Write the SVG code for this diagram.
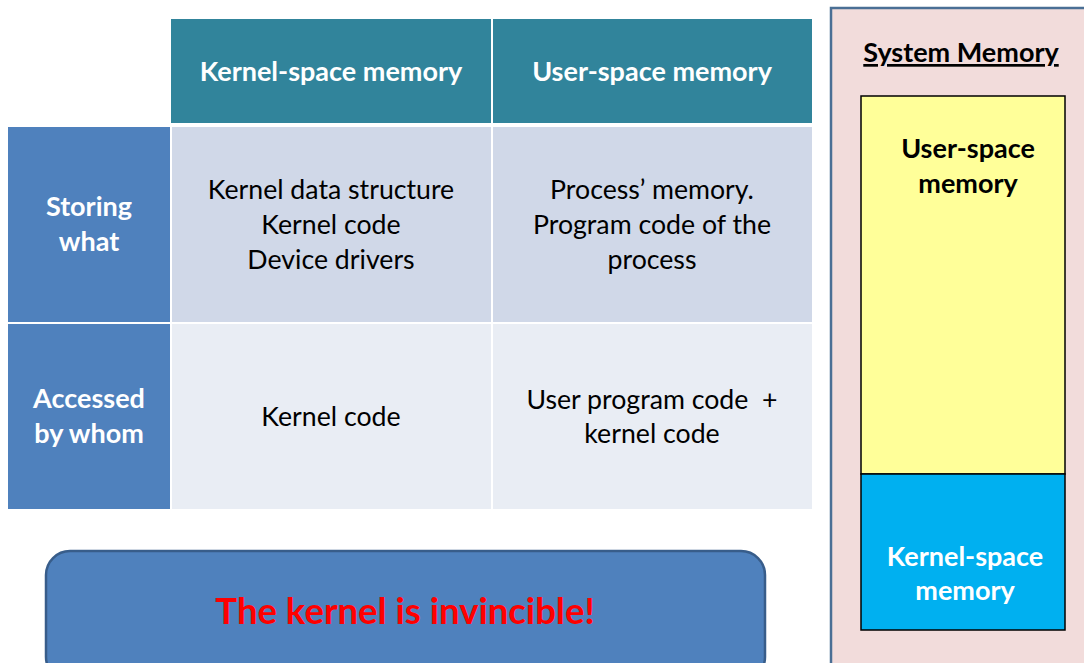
<svg xmlns="http://www.w3.org/2000/svg" width="1084" height="663" viewBox="0 0 1084 663">
<style>
text{font-family:Lato,"Open Sans","Liberation Sans",sans-serif;text-anchor:middle}
.h{fill:#ffffff;font-weight:bold;font-size:27px}
.c{fill:#000000;font-size:26.7px}
.b{fill:#000000;font-weight:bold;font-size:27px}
</style>
<rect width="1084" height="663" fill="#ffffff"/>
<g id="table">
<g id="hdr-kernel"><rect x="171" y="19" width="320" height="104" fill="#31849b"/><text class="h" x="331" y="81">Kernel-space memory</text></g>
<g id="hdr-user"><rect x="493" y="19" width="319" height="104" fill="#31849b"/><text class="h" x="652" y="81">User-space memory</text></g>
<g id="row-storing"><rect x="8" y="127" width="162" height="195" fill="#4f81bd"/><text class="h" x="89" y="216">Storing</text><text class="h" x="89" y="251">what</text></g>
<g id="row-accessed"><rect x="8" y="324" width="162" height="185" fill="#4f81bd"/><text class="h" x="89" y="408">Accessed</text><text class="h" x="89" y="443">by whom</text></g>
<g id="cell-k1"><rect x="172" y="127" width="319" height="195" fill="#d0d8e8"/><text class="c" x="331" y="199">Kernel data structure</text><text class="c" x="331" y="234">Kernel code</text><text class="c" x="331" y="269">Device drivers</text></g>
<g id="cell-u1"><rect x="493" y="127" width="319" height="195" fill="#d0d8e8"/><text class="c" x="652" y="199">Process’ memory.</text><text class="c" x="652" y="234">Program code of the</text><text class="c" x="652" y="269">process</text></g>
<g id="cell-k2"><rect x="172" y="324" width="319" height="185" fill="#e9edf4"/><text class="c" x="331" y="426">Kernel code</text></g>
<g id="cell-u2"><rect x="493" y="324" width="319" height="185" fill="#e9edf4"/><text class="c" x="652" y="409" xml:space="preserve">User program code  +</text><text class="c" x="652" y="443">kernel code</text></g>
</g>
<g id="callout"><rect x="46" y="551" width="719" height="130" rx="24" fill="#4f81bd" stroke="#385d8a" stroke-width="2.5"/><text x="405" y="624" fill="#ff0000" font-weight="bold" font-size="36.5px">The kernel is invincible!</text></g>
<g id="system-memory">
<rect x="831" y="8" width="270" height="680" fill="#f2dcdb" stroke="#4a6f95" stroke-width="2.5"/>
<text class="b" x="961" y="62" text-decoration="underline">System Memory</text>
<g id="user-space"><rect x="861" y="96" width="204" height="378" fill="#ffff99" stroke="#000000" stroke-width="1.5"/><text class="b" x="968" y="158">User-space</text><text class="b" x="968" y="193">memory</text></g>
<g id="kernel-space"><rect x="861" y="474" width="204" height="156" fill="#00b0f0" stroke="#000000" stroke-width="1.5"/><text class="h" x="965" y="566">Kernel-space</text><text class="h" x="965" y="600">memory</text></g>
</g>
<g id="connectors"/>
</svg>
